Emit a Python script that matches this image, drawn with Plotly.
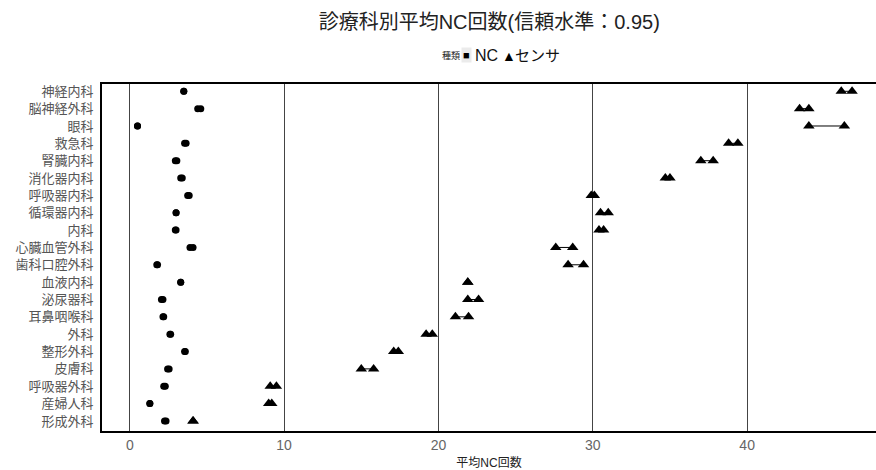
import plotly.graph_objects as go

depts = ["神経内科", "脳神経外科", "眼科", "救急科", "腎臓内科", "消化器内科", "呼吸器内科",
         "循環器内科", "内科", "心臓血管外科", "歯科口腔外科", "血液内科", "泌尿器科",
         "耳鼻咽喉科", "外科", "整形外科", "皮膚科", "呼吸器外科", "産婦人科", "形成外科"]

nc_lo = [3.5, 4.4, 0.5, 3.55, 2.95, 3.3, 3.75, 3.0, 2.95, 3.9, 1.75, 3.3, 2.05, 2.15, 2.6, 3.55, 2.45, 2.2, 1.3, 2.25]
nc_hi = [3.5, 4.6, 0.5, 3.65, 3.05, 3.4, 3.85, 3.0, 3.0, 4.1, 1.8, 3.3, 2.15, 2.2, 2.65, 3.6, 2.55, 2.3, 1.3, 2.35]

sensor_lo = [46.1, 43.4, 44.0, 38.8, 37.0, 34.7, 29.9, 30.5, 30.4, 27.6, 28.4, 21.9, 21.9, 21.1, 19.2, 17.1, 15.0, 9.1, 9.0, 4.1]
sensor_hi = [46.8, 44.0, 46.3, 39.4, 37.8, 35.0, 30.1, 31.0, 30.7, 28.7, 29.4, 21.9, 22.6, 21.95, 19.6, 17.4, 15.8, 9.5, 9.2, 4.1]

legend_title = "種類"
legend_items = [("■", "NC"), ("▲", "センサ")]

cjk = "Liberation Sans Narrow, Arial, Noto Sans CJK JP, sans-serif"

def seg(lo, hi):
    xs, ys = [], []
    for d, a, b in zip(depts, lo, hi):
        xs += [a, b, None]
        ys += [d, d, None]
    return xs, ys

fig = go.Figure()

for lo, hi in [(nc_lo, nc_hi), (sensor_lo, sensor_hi)]:
    xs, ys = seg(lo, hi)
    fig.add_trace(go.Scatter(x=xs, y=ys, mode="lines", line=dict(color="black", width=1),
                             showlegend=False, hoverinfo="skip"))

for vals in (nc_lo, nc_hi):
    fig.add_trace(go.Scatter(x=vals, y=depts, mode="markers", name="NC",
                             marker=dict(symbol="circle", size=7, color="black"),
                             showlegend=False))
for vals in (sensor_lo, sensor_hi):
    fig.add_trace(go.Scatter(x=vals, y=depts, mode="markers", name="センサ",
                             marker=dict(symbol="triangle-up", size=10, color="black"),
                             showlegend=False))

# legend built from annotations (compact, title on the left)
W = 774.0
def px(x):
    return (x - 102) / W
ly = (431 - 55) / 347.0
fig.add_annotation(x=px(451), y=ly, xref="paper", yref="paper", text=legend_title,
                   showarrow=False, font=dict(size=9, color="#222"), xanchor="center", yanchor="middle")
fig.add_annotation(x=px(466), y=ly, xref="paper", yref="paper", text=legend_items[0][0],
                   showarrow=False, font=dict(size=11, color="black"), xanchor="center", yanchor="middle",
                   bgcolor="#ebebeb")
fig.add_annotation(x=px(486), y=ly, xref="paper", yref="paper", text=legend_items[0][1],
                   showarrow=False, font=dict(size=16, color="#111"), xanchor="center", yanchor="middle")
fig.add_annotation(x=px(509), y=ly - 0.004, xref="paper", yref="paper", text=legend_items[1][0],
                   showarrow=False, font=dict(size=14, color="black"), xanchor="center", yanchor="middle")
fig.add_annotation(x=px(537), y=ly, xref="paper", yref="paper", text=legend_items[1][1],
                   showarrow=False, font=dict(size=15, color="#111"), xanchor="center", yanchor="middle")

fig.update_layout(
    width=876, height=470,
    margin=dict(l=102, r=0, t=84, b=39),
    plot_bgcolor="white", paper_bgcolor="white",
    showlegend=False,
    font=dict(family=cjk, color="#222"),
    title=dict(text="診療科別平均NC回数(信頼水準：0.95)", x=0.5585, xanchor="center",
               y=0.953, yanchor="middle", font=dict(size=20, color="#222")),
    xaxis=dict(range=[-1.8, 48.35], tickvals=[0, 10, 20, 30, 40], showgrid=True,
               gridcolor="#444", gridwidth=1.3, zeroline=False,
               showline=True, linecolor="black", linewidth=2, mirror=True,
               ticks="", tickfont=dict(size=14, color="#666"),
               title=dict(text="平均NC回数", font=dict(size=12, color="#222"), standoff=7)),
    yaxis=dict(type="category", categoryorder="array", categoryarray=depts,
               range=[19.58, -0.42], showgrid=False, zeroline=False,
               showline=True, linecolor="black", linewidth=2, ticks="",
               tickfont=dict(size=13, color="#555"), ticklabelstandoff=4),
)

fig.write_html("out.html")
